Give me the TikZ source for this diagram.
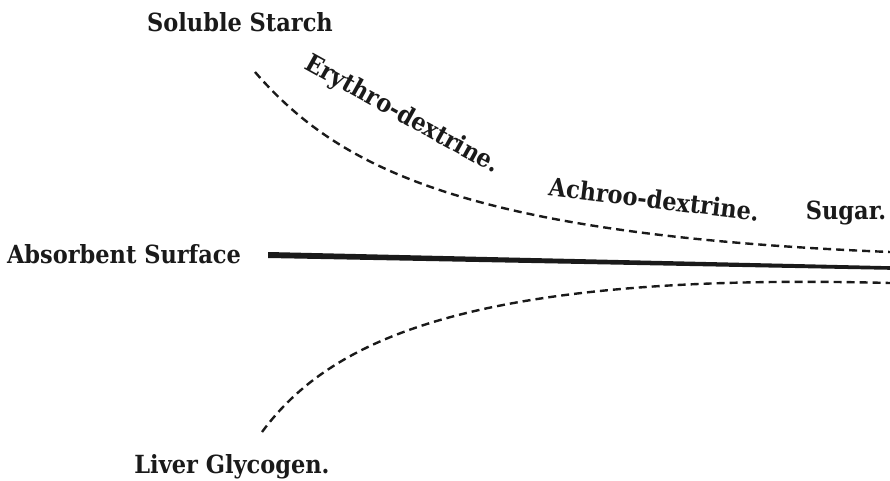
\documentclass[tikz,border=0pt]{standalone}
\usepackage{fontspec}
\setmainfont{DejaVu Serif Condensed}
\usetikzlibrary{positioning, calc}

\begin{document}
\begin{tikzpicture}[
    x=1pt, y=-1pt,
    every node/.style={font=\fontsize{25}{29}\selectfont\bfseries, inner sep=0pt},
    pathline/.style={dash pattern=on 8pt off 5pt, line width=2.4pt, line cap=butt},
]

\definecolor{ink}{HTML}{1A1A1A}

% ---------------------------------------------------------------- frame
\useasboundingbox (0,0) rectangle (890,481);

% ---------------------------------------------------------------- labels
\node[text=ink] (starch)   at (240, 22)  {Soluble Starch};
\node[text=ink] (surface)  at (124, 254) {Absorbent Surface};
\node[text=ink] (glycogen) at (232, 467) {Liver Glycogen.};
\node[text=ink, rotate=-29] (erythro) at (402, 115) {Erythro-dextrine.};
\node[text=ink, rotate=-7]  (achroo)  at (654, 199) {Achroo-dextrine.};
\node[text=ink] (sugar)    at (846, 213) {Sugar.};

% ---------------------------------------------------------------- ends of the paths
\coordinate (upstart)   at (255, 72);
\coordinate (upend)     at (890, 252);
\coordinate (lowstart)  at (262, 432);
\coordinate (lowend)    at (890, 283);
\coordinate (surfstart) at (268, 255);
\coordinate (surfend)   at (890, 268);

% ---------------------------------------------------------------- absorbent surface
\fill[ink] ($(surfstart)+(0,-3)$) -- ($(surfend)+(0,-1.8)$)
    -- ($(surfend)+(0,1.8)$) -- ($(surfstart)+(0,3)$) -- cycle;

% ---------------------------------------------------------------- starch down to sugar
\draw[pathline, ink] (upstart) .. controls (340, 170) and (470, 235) .. (upend);

% ---------------------------------------------------------------- glycogen
\draw[pathline, ink] (lowstart) .. controls (330, 340) and (470, 272) .. (lowend);

\end{tikzpicture}
\end{document}
